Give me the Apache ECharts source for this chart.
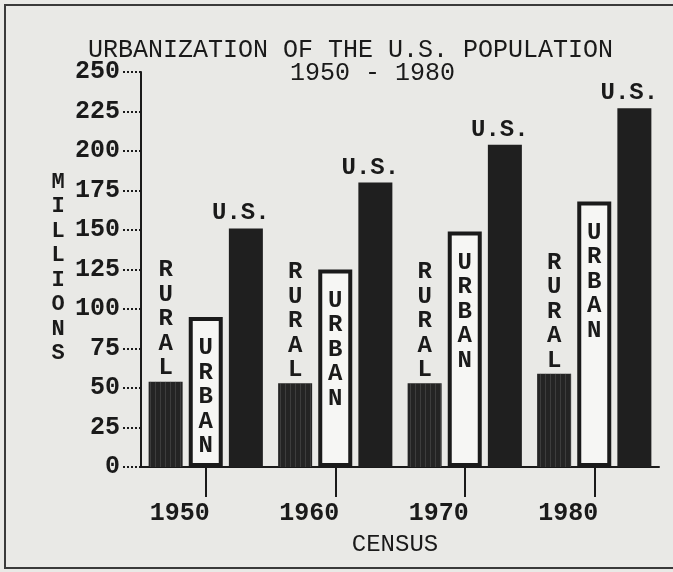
<!DOCTYPE html>
<html>
<head>
<meta charset="utf-8">
<script src="https://cdn.jsdelivr.net/npm/echarts@6/dist/echarts.min.js"></script>
<style>
  html, body { margin: 0; padding: 0; background: #e9e9e6; }
  #chart { width: 673px; height: 572px; }
</style>
</head>
<body>
<div id="chart"></div>
<script>
// Census population, millions
const censusYears = ['1950', '1960', '1970', '1980'];
const ruralMillions = [54, 53, 53, 59];
const urbanMillions = [95, 125, 149, 168];
const totalMillions = [151, 180, 204, 227];

const ruralLabel = 'RURAL';
const urbanLabel = 'URBAN';
const totalLabel = 'U.S.';
const titleLines = ['URBANIZATION OF THE U.S. POPULATION', '1950 - 1980'];
const yAxisName = 'MILLIONS';
const xAxisName = 'CENSUS';

const FONT = '"Liberation Mono", "DejaVu Sans Mono", monospace';
const INK = '#1a1a1a';
const stackLetters = s => s.split('').join('\n');

const chart = echarts.init(document.getElementById('chart'), null, { renderer: 'canvas' });

chart.setOption({
  backgroundColor: '#e9e9e6',
  animation: false,
  title: [
    {
      text: titleLines[0], left: 88, top: 38, padding: 0,
      textStyle: { fontFamily: FONT, fontSize: 25, fontWeight: 'normal', color: INK, lineHeight: 25 }
    },
    {
      text: titleLines[1], left: 290, top: 61, padding: 0,
      textStyle: { fontFamily: FONT, fontSize: 25, fontWeight: 'normal', color: INK, lineHeight: 25 }
    }
  ],
  grid: { left: 141, right: 14, top: 72, bottom: 105, containLabel: false },
  xAxis: {
    type: 'category',
    data: censusYears,
    name: xAxisName,
    nameLocation: 'middle',
    nameGap: 66,
    nameTextStyle: { fontFamily: FONT, fontSize: 24, color: INK, padding: [0, 10, 0, 0] },
    axisLine: { show: true, lineStyle: { color: INK, width: 2 } },
    axisTick: { show: true, inside: false, alignWithLabel: true, interval: 0, length: 30, lineStyle: { color: INK, width: 2 } },
    axisLabel: {
      fontFamily: FONT, fontSize: 25, fontWeight: 'bold', color: INK,
      margin: 34, padding: [0, 52, 0, 0]
    },
    splitLine: { show: false }
  },
  yAxis: {
    type: 'value',
    min: 0, max: 250, interval: 25,
    axisLine: { show: true, lineStyle: { color: INK, width: 2 } },
    axisTick: { show: true, length: 20, lineStyle: { color: INK, width: 2, type: 'dotted' } },
    axisLabel: { fontFamily: FONT, fontSize: 25, fontWeight: 'bold', color: INK, margin: 21 },
    splitLine: { show: false }
  },
  graphic: [
    {
      type: 'rect', silent: true, z: -1,
      shape: { x: 5, y: 5, width: 700, height: 563 },
      style: { fill: 'none', stroke: '#3a3a3a', lineWidth: 2 }
    },
    {
      type: 'text', silent: true,
      style: {
        text: stackLetters(yAxisName), x: 58, y: 170,
        font: 'bold 22px ' + FONT, fill: INK,
        textAlign: 'center', textVerticalAlign: 'top', lineHeight: 24.5
      }
    }
  ],
  series: [
    {
      name: ruralLabel, type: 'bar', data: ruralMillions,
      barWidth: 34, barGap: '18%',
      itemStyle: {
        color: '#242424',
        decal: {
          symbol: 'rect', symbolSize: 1,
          dashArrayX: [1, 4], dashArrayY: [4, 0],
          color: 'rgba(110,110,110,0.35)'
        }
      },
      label: {
        show: true, position: 'top', distance: 1,
        formatter: stackLetters(ruralLabel),
        fontFamily: FONT, fontSize: 24, fontWeight: 'bold', lineHeight: 24.5, color: INK
      }
    },
    {
      name: urbanLabel, type: 'bar', data: urbanMillions,
      barWidth: 34, barGap: '18%',
      itemStyle: { color: '#f6f6f4', borderColor: INK, borderWidth: 4 },
      label: {
        show: true, position: 'insideTop', distance: 19,
        formatter: stackLetters(urbanLabel),
        fontFamily: FONT, fontSize: 24, fontWeight: 'bold', lineHeight: 24.5, color: INK
      }
    },
    {
      name: totalLabel, type: 'bar', data: totalMillions,
      barWidth: 34, barGap: '18%',
      itemStyle: { color: '#1f1f1f' },
      label: {
        show: true, position: 'top', distance: 3, offset: [-5, 0],
        formatter: totalLabel,
        fontFamily: FONT, fontSize: 24, fontWeight: 'bold', color: INK
      }
    }
  ]
});
</script>
</body>
</html>
